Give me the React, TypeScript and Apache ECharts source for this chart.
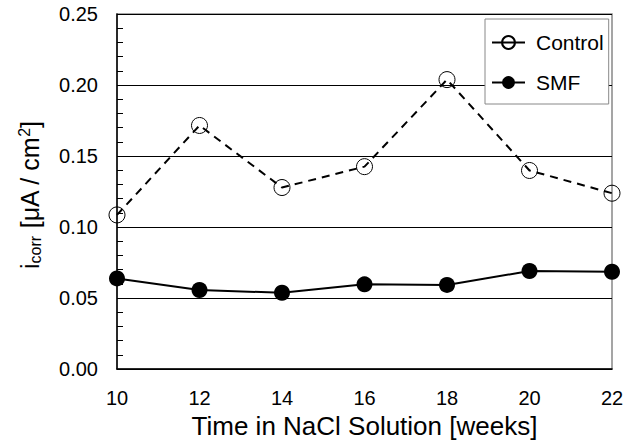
import React, { useEffect, useRef } from "react";
import * as echarts from "echarts";

const weeks = [10, 12, 14, 16, 18, 20, 22];
const controlValues = [0.1085, 0.1715, 0.1278, 0.1425, 0.2038, 0.1398, 0.1238];
const smfValues = [0.0638, 0.0556, 0.0537, 0.0596, 0.0592, 0.069, 0.0685];
const seriesNames = ["Control", "SMF"];
const xTitle = "Time in NaCl Solution [weeks]";

const FONT = "'Liberation Sans', Arial, Helvetica, sans-serif";

export default function App() {
  const ref = useRef<HTMLDivElement>(null);
  useEffect(() => {
    if (!ref.current) return;
    const chart = echarts.init(ref.current, null, { renderer: "svg" });
    chart.setOption({
      animation: false,
      backgroundColor: "#ffffff",
      textStyle: { fontFamily: FONT, color: "#000" },
      grid: {
        left: 117,
        right: 26,
        top: 14,
        bottom: 76,
        show: true,
        borderColor: "#888888",
        borderWidth: 1.5,
        backgroundColor: "transparent",
      },
      legend: {
        data: seriesNames,
        orient: "vertical",
        left: 485,
        top: 19,
        padding: [13, 5, 11, 6],
        itemGap: 19,
        itemWidth: 33,
        itemHeight: 16,
        backgroundColor: "#ffffff",
        borderColor: "#888888",
        borderWidth: 1,
        lineStyle: { type: "solid", width: 2, color: "#000" },
        textStyle: {
          fontSize: 21,
          fontFamily: FONT,
          color: "#000",
          lineHeight: 20,
          padding: [0, 0, 0, 6],
        },
      },
      xAxis: {
        type: "value",
        min: 10,
        max: 22,
        interval: 2,
        name: xTitle,
        nameLocation: "middle",
        nameGap: 43,
        nameTextStyle: { fontSize: 26, fontFamily: FONT, color: "#000" },
        axisLine: { show: true, onZero: false, lineStyle: { color: "#000", width: 1.5 } },
        axisTick: { show: false },
        axisLabel: { fontSize: 20, fontFamily: FONT, color: "#000", margin: 19 },
        splitLine: { show: false },
      },
      yAxis: {
        type: "value",
        min: 0,
        max: 0.25,
        interval: 0.05,
        axisLine: { show: true, lineStyle: { color: "#000", width: 1.5 } },
        axisTick: { show: true, inside: true, length: 6, lineStyle: { color: "#000" } },
        minorTick: { show: true, splitNumber: 5, length: 6, lineStyle: { color: "#000" } },
        axisLabel: {
          fontSize: 20,
          fontFamily: FONT,
          color: "#000",
          margin: 19,
          formatter: (v: number) => v.toFixed(2),
        },
        splitLine: { show: true, lineStyle: { color: "#000", width: 1 } },
      },
      graphic: [
        {
          type: "text",
          x: 30,
          y: 195,
          rotation: Math.PI / 2,
          style: {
            text: "{m|i}{sub|corr}{m| [μA / cm}{sup|2}{m|]}",
            align: "center",
            verticalAlign: "middle",
            fontFamily: FONT,
            rich: {
              m: { fontSize: 25, fontFamily: FONT, fill: "#000", lineHeight: 30, verticalAlign: "middle" },
              sub: { fontSize: 16, fontFamily: FONT, fill: "#000", lineHeight: 30, padding: [10, 0, 0, 0], verticalAlign: "middle" },
              sup: { fontSize: 16, fontFamily: FONT, fill: "#000", lineHeight: 30, padding: [0, 0, 12, 0], verticalAlign: "middle" },
            },
          },
        },
      ],
      series: [
        {
          name: seriesNames[0],
          type: "line",
          data: weeks.map((w, i) => [w, controlValues[i]]),
          symbol: "circle",
          symbolSize: 16,
          z: 3,
          lineStyle: { color: "#000", width: 2, type: [8, 6] },
          itemStyle: { color: "rgba(255,255,255,0)", borderColor: "#000", borderWidth: 1 },
        },
        {
          name: seriesNames[1],
          type: "line",
          data: weeks.map((w, i) => [w, smfValues[i]]),
          symbol: "circle",
          symbolSize: 16,
          z: 3,
          lineStyle: { color: "#000", width: 2 },
          itemStyle: { color: "#000", borderColor: "#000", borderWidth: 0 },
        },
      ],
    });
    return () => chart.dispose();
  }, []);
  return (
    <div
      ref={ref}
      style={{ position: "fixed", left: 0, top: 0, width: 638, height: 445 }}
    />
  );
}
